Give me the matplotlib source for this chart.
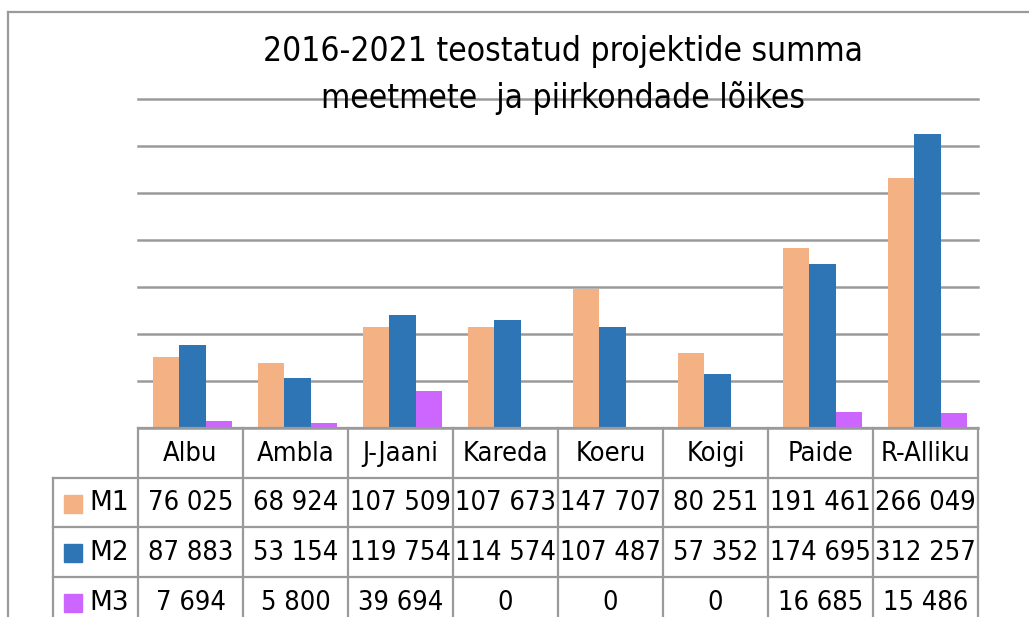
import matplotlib
matplotlib.use("Agg")
import matplotlib.pyplot as plt
from matplotlib.lines import Line2D
from matplotlib.patches import Rectangle

categories = ["Albu", "Ambla", "J-Jaani", "Kareda", "Koeru", "Koigi", "Paide", "R-Alliku"]
series_names = ["M1", "M2", "M3"]
m1 = [76025, 68924, 107509, 107673, 147707, 80251, 191461, 266049]
m2 = [87883, 53154, 119754, 114574, 107487, 57352, 174695, 312257]
m3 = [7694, 5800, 39694, 0, 0, 0, 16685, 15486]
colors = ["#F4B183", "#2E75B6", "#CC66FF"]
title = "2016-2021 teostatud projektide summa\nmeetmete  ja piirkondade lõikes"

def fmt(v):
    return f"{v:,}".replace(",", " ")

W, H = 1029, 617
fig = plt.figure(figsize=(W / 100, H / 100), dpi=100)
ax = fig.add_axes([138 / W, (H - 428) / H, 840 / W, 329 / H])

series = [m1, m2, m3]
n = len(categories)
bw = 0.25
for i, vals in enumerate(series):
    xs = [k + (i - 1) * bw + 0.02 for k in range(n)]
    ax.bar(xs, vals, width=bw, color=colors[i], zorder=3, linewidth=0)

ax.set_xlim(-0.5, n - 0.5)
ax.set_ylim(0, 350000)
ax.set_yticks(range(0, 350001, 50000))
ax.yaxis.grid(True, color="#9a9a9a", linewidth=1.8, zorder=0)
for gl in ax.get_ygridlines():
    gl.set_clip_on(False)
ax.tick_params(left=False, bottom=False, labelleft=False, labelbottom=False)
for s in ax.spines.values():
    s.set_visible(False)

gc = "#9a9a9a"
def px(x, y):
    return (x / W, 1 - y / H)

def hline(x0, x1, y):
    fig.add_artist(Line2D([x0 / W, x1 / W], [1 - y / H, 1 - y / H], color=gc, lw=1.6, transform=fig.transFigure))

def vline(x, y0, y1):
    fig.add_artist(Line2D([x / W, x / W], [1 - y0 / H, 1 - y1 / H], color=gc, lw=1.6, transform=fig.transFigure))

col_left = 138
col_w = 840 / n
rows_y = [428, 478, 527, 577, 627]
hline(col_left, 978, rows_y[0])
for y in rows_y[1:4]:
    hline(53, 978, y)
for k in range(n + 1):
    vline(col_left + k * col_w, 428, 617)
vline(53, 478, 617)

fs = 19.5
tfont = dict(family="DejaVu Sans", fontstretch="condensed", fontsize=fs)
for k, c in enumerate(categories):
    x, y = px(col_left + (k + 0.5) * col_w, (rows_y[0] + rows_y[1]) / 2 + 1)
    fig.text(x, y, c, ha="center", va="center", **tfont)

for r, vals in enumerate(series):
    yc = (rows_y[r + 1] + rows_y[r + 2]) / 2 + 1
    fig.add_artist(Rectangle(px(64, yc + 9), 18 / W, 18 / H, color=colors[r], transform=fig.transFigure))
    x, y = px(89, yc)
    fig.text(x, y, series_names[r], ha="left", va="center", family="DejaVu Sans", fontsize=19)
    for k, v in enumerate(vals):
        x, y = px(col_left + (k + 0.5) * col_w, yc)
        fig.text(x, y, fmt(v), ha="center", va="center", **tfont)

fig.add_artist(Line2D([8 / W, 1], [1 - 12 / H, 1 - 12 / H], color="#9a9a9a", lw=1.6, transform=fig.transFigure))
fig.add_artist(Line2D([8 / W, 8 / W], [1 - 12 / H, 0], color="#9a9a9a", lw=1.6, transform=fig.transFigure))

fig.text(563 / W, 1 - 75 / H, title, ha="center", va="center", fontsize=24,
         family="DejaVu Sans", fontstretch="condensed", linespacing=1.45, zorder=5)

fig.savefig("out.png", dpi=100, facecolor="white")
